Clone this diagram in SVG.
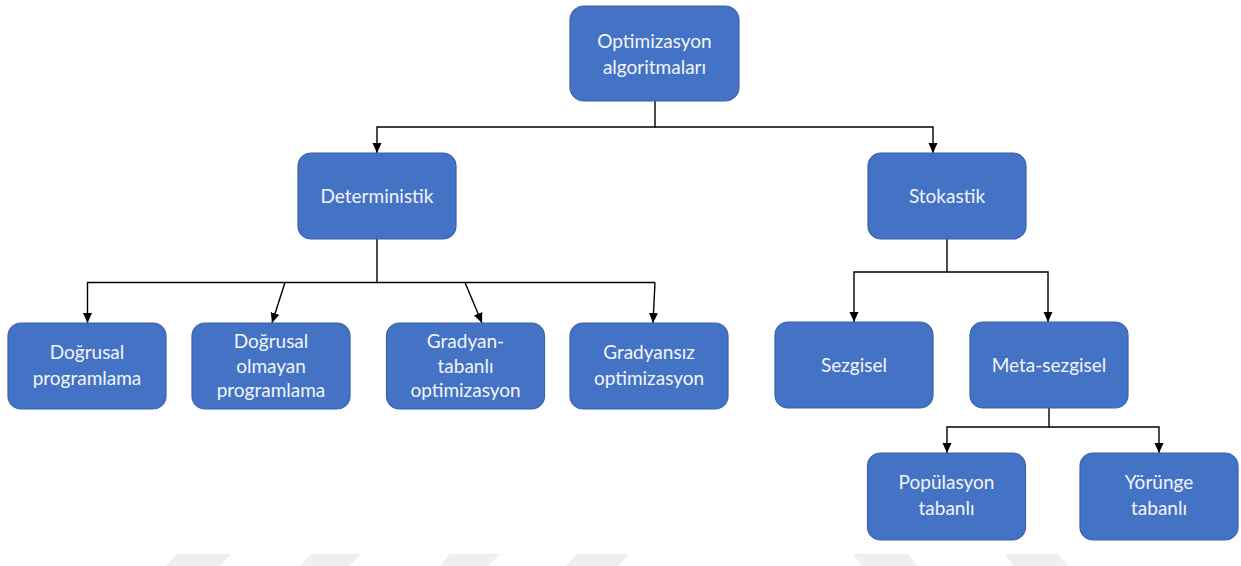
<svg xmlns="http://www.w3.org/2000/svg" width="1241" height="566" viewBox="0 0 1241 566">
<style>
.box{fill:#4472c4;stroke:#3a63ad;stroke-width:1.2}
.t{font-family:Lato,"Noto Sans",sans-serif;font-size:19px;fill:#f2f5fa;text-anchor:middle}
.c{fill:none;stroke:#000;stroke-width:1.4}
.wm{fill:#efefef}
</style>
<defs>
<marker id="ah" markerUnits="userSpaceOnUse" markerWidth="10" markerHeight="10" refX="10" refY="5" orient="auto">
<path d="M0,0.5 L10,5 L0,9.5 z" fill="#000"/>
</marker>
</defs>
<g id="watermark">
<polygon class="wm" points="177,554 231,554 220,566 166,566"/>
<polygon class="wm" points="311,554 361,554 349,566 300,566"/>
<polygon class="wm" points="450,554 500,554 488,566 439,566"/>
<polygon class="wm" points="577,554 629,554 618,566 566,566"/>
<polygon class="wm" points="853,554 908,554 918,566 862,566"/>
<polygon class="wm" points="1005,554 1058,554 1068,566 1013,566"/>
</g>
<g id="connectors">
<polyline class="c" points="655,101 655,127 377,127 377,153" marker-end="url(#ah)"/>
<polyline class="c" points="655,127 933,127 933,153" marker-end="url(#ah)"/>
<polyline class="c" points="377,239 377,282.5 87.5,282.5 87.5,323" marker-end="url(#ah)"/>
<polyline class="c" points="377,282.5 655,282.5"/>
<line class="c" x1="285" y1="282.5" x2="272" y2="323" marker-end="url(#ah)"/>
<line class="c" x1="465" y1="282.5" x2="482" y2="323" marker-end="url(#ah)"/>
<line class="c" x1="655" y1="282.5" x2="653" y2="323" marker-end="url(#ah)"/>
<polyline class="c" points="947,239 947,272 854,272 854,322" marker-end="url(#ah)"/>
<polyline class="c" points="947,272 1048,272 1048,322" marker-end="url(#ah)"/>
<polyline class="c" points="1049,408 1049,427 947,427 947,453" marker-end="url(#ah)"/>
<polyline class="c" points="1049,427 1159,427 1159,453" marker-end="url(#ah)"/>
</g>
<g id="n-root">
<rect class="box" x="570" y="6" width="169" height="95" rx="14"/>
<text class="t" x="654.5" y="47.5">Optimizasyon</text>
<text class="t" x="654.5" y="73.5">algoritmaları</text>
</g>
<g id="n-det">
<rect class="box" x="298" y="153" width="158" height="86" rx="13"/>
<text class="t" x="377" y="203">Deterministik</text>
</g>
<g id="n-stok">
<rect class="box" x="868" y="153" width="158" height="86" rx="13"/>
<text class="t" x="947" y="203">Stokastik</text>
</g>
<g id="n-dp">
<rect class="box" x="8" y="323" width="158" height="86" rx="13"/>
<text class="t" x="87" y="359">Doğrusal</text>
<text class="t" x="87" y="385">programlama</text>
</g>
<g id="n-dop">
<rect class="box" x="192" y="323" width="158" height="86" rx="13"/>
<text class="t" x="271" y="348">Doğrusal</text>
<text class="t" x="271" y="372.5">olmayan</text>
<text class="t" x="271" y="397">programlama</text>
</g>
<g id="n-gt">
<rect class="box" x="386.5" y="323" width="158" height="86" rx="13"/>
<text class="t" x="465.5" y="348">Gradyan-</text>
<text class="t" x="465.5" y="372.5">tabanlı</text>
<text class="t" x="465.5" y="397">optimizasyon</text>
</g>
<g id="n-gs">
<rect class="box" x="570" y="323" width="158" height="86" rx="13"/>
<text class="t" x="649" y="359">Gradyansız</text>
<text class="t" x="649" y="385">optimizasyon</text>
</g>
<g id="n-sez">
<rect class="box" x="775" y="322" width="158" height="86" rx="13"/>
<text class="t" x="854" y="372">Sezgisel</text>
</g>
<g id="n-meta">
<rect class="box" x="970" y="322" width="158" height="86" rx="13"/>
<text class="t" x="1049" y="372">Meta-sezgisel</text>
</g>
<g id="n-pop">
<rect class="box" x="867.5" y="453" width="158" height="87" rx="13"/>
<text class="t" x="946.5" y="489">Popülasyon</text>
<text class="t" x="946.5" y="515">tabanlı</text>
</g>
<g id="n-yor">
<rect class="box" x="1080" y="453" width="158" height="87" rx="13"/>
<text class="t" x="1159" y="489">Yörünge</text>
<text class="t" x="1159" y="515">tabanlı</text>
</g>
</svg>
